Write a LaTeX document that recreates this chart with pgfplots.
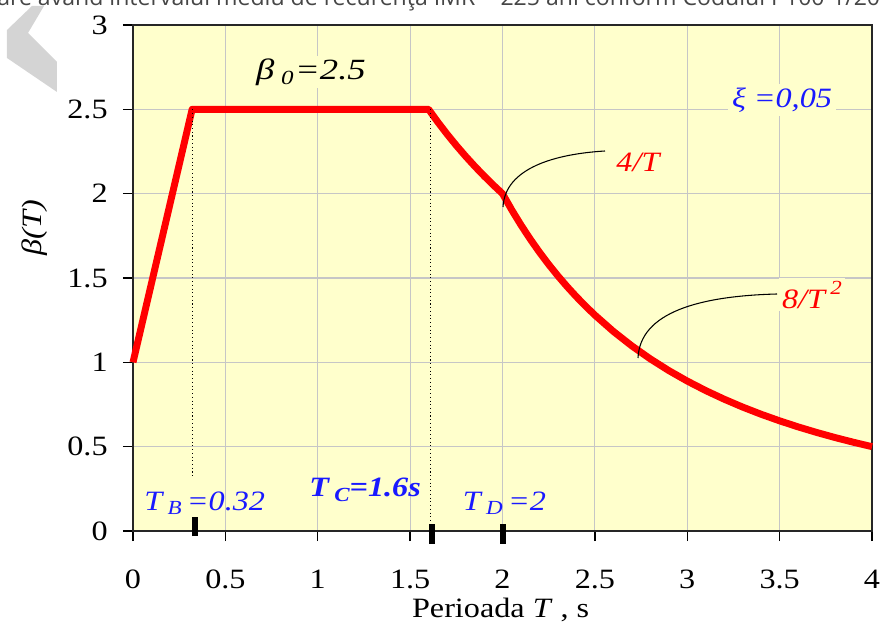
\documentclass[border=0pt]{standalone}
\usepackage{graphicx}
\usepackage{fontspec}
\setmainfont{Liberation Serif}
\newfontfamily\topsans{Open Sans}
\usepackage{pgfplots}
\pgfplotsset{compat=1.18}
\definecolor{bgyellow}{RGB}{255,255,204}
\definecolor{gridgray}{RGB}{198,198,198}
\definecolor{lblue}{RGB}{25,25,255}
\definecolor{chev}{RGB}{212,212,212}
\definecolor{toptext}{RGB}{70,70,70}
\newcommand{\lbl}{\fontsize{21}{24}\selectfont}
\newcommand{\wide}[1]{\scalebox{1.15}[1]{#1}}
\newcommand{\sub}[1]{\raisebox{-0.35ex}{\fontsize{15}{16}\selectfont #1}}

\begin{document}
\begin{tikzpicture}
\useasboundingbox (-99.75pt,-69pt) rectangle (560.25pt,398.25pt);
% page decorations, in pixels from the top left corner
\begin{scope}[x=0.75pt,y=-0.75pt,shift={(-99.75pt,398.25pt)}]
  \fill[chev] (7,30) -- (32,6) -- (44,6) -- (28,33) -- (57,62) -- (57,92) -- (7,58) -- cycle;
  \node[anchor=base west, text=toptext, inner sep=0pt, font=\topsans\fontsize{17.3}{19}\selectfont]
    at (-3,6) {are având intervalul mediu de recurenţă IMR = 225 ani conform Codului P100-1/2013};
\end{scope}

\begin{axis}[
  at={(0,0)}, anchor=south west, scale only axis,
  width=554.25pt, height=379.5pt,
  xmin=0, xmax=4, ymin=0, ymax=3,
  xtick={0,0.5,...,4}, ytick={0,0.5,...,3},
  grid=major, major grid style={gridgray, line width=0.8pt},
  axis background/.style={fill=bgyellow},
  axis line style={black!85, line width=1.1pt},
  tick align=outside, xtick pos=left, ytick pos=left,
  major tick length=7.5pt, tick style={black, line width=1pt},
  ticklabel style={font=\lbl},
  /pgf/number format/assume math mode=true,
  xticklabel={\wide{\pgfmathprintnumber{\tick}}},
  yticklabel={\wide{\pgfmathprintnumber{\tick}}},
  xticklabel style={yshift=-18pt},
  yticklabel style={xshift=-8pt},
  clip=false,
]
% spectrum beta(T)
\addplot[red, line width=5.2pt, line join=round] coordinates {
  (0,1) (0.32,2.5) (1.6,2.5)
  (1.65,2.4242) (1.7,2.3529) (1.75,2.2857) (1.8,2.2222) (1.85,2.1622)
  (1.9,2.1053) (1.95,2.0513) (2.0,2.0)
  (2.05,1.9036) (2.1,1.8141) (2.15,1.7307) (2.2,1.6529) (2.25,1.5802)
  (2.3,1.5123) (2.35,1.4486) (2.4,1.3889) (2.45,1.3328) (2.5,1.28)
  (2.6,1.1834) (2.7,1.0974) (2.8,1.0204) (2.9,0.9512) (3.0,0.8889)
  (3.1,0.8325) (3.2,0.7813) (3.3,0.7346) (3.4,0.6920) (3.5,0.6531)
  (3.6,0.6173) (3.7,0.5844) (3.8,0.5540) (3.9,0.5260) (4.0,0.5)
};
% corner periods
\addplot[black, dotted, line width=0.8pt] coordinates {(0.32,2.5) (0.32,0.32)};
\addplot[black, dotted, line width=0.8pt] coordinates {(1.61,2.5) (1.61,0.05)};
\addplot[black, line width=4.5pt] coordinates {(0.336,-0.03) (0.336,0.083)};
\addplot[black, line width=4.5pt] coordinates {(1.618,-0.077) (1.618,0.041)};
\addplot[black, line width=4.5pt] coordinates {(2.005,-0.077) (2.005,0.041)};

\node[font=\fontsize{22}{24}\selectfont\itshape, fill=bgyellow, inner sep=2pt] at (axis cs:0.963,2.72)
  {\scalebox{1.25}[1]{β\hspace{4pt}\sub{0}\hspace{1pt}=2.5}};
\node[font=\lbl\itshape, text=lblue, fill=bgyellow, inner sep=3pt] at (axis cs:3.513,2.555) {\wide{ξ =0,05}};
\node[font=\lbl\itshape, text=red, fill=bgyellow, inner sep=6pt] at (axis cs:2.733,2.187) {\wide{4/T}};
\node[font=\lbl\itshape, text=red, fill=bgyellow, inner sep=2pt] at (axis cs:3.675,1.4)
  {\wide{8/T\,\raisebox{1.1ex}{\fontsize{15}{16}\selectfont 2}}};
\node[font=\lbl\itshape, text=lblue] at (axis cs:0.388,0.166) {\wide{T\,\sub{B}\,=0.32}};
\node[font=\lbl\itshape\bfseries, text=lblue] at (axis cs:1.256,0.243) {\wide{T\,\sub{C}=1.6s}};
\node[font=\lbl\itshape, text=lblue] at (axis cs:2.01,0.166) {\wide{T\,\sub{D}\,=2}};

\node[font=\lbl, rotate=90] at (axis cs:-0.53,1.80) {\wide{\itshape β(T)}};
\node[font=\lbl, anchor=base] at (axis cs:1.99,-0.51) {\wide{Perioada \textit{T} , s}};
\end{axis}

% leader lines, in pixels
\begin{scope}[x=0.75pt,y=-0.75pt,shift={(-99.75pt,398.25pt)}]
  \draw[black, line width=0.8pt] (503,207) .. controls (505,168) and (555,154) .. (605,151);
  \draw[black, line width=0.8pt] (638,358) .. controls (640,312) and (700,296) .. (777,294);
\end{scope}
\end{tikzpicture}
\end{document}
